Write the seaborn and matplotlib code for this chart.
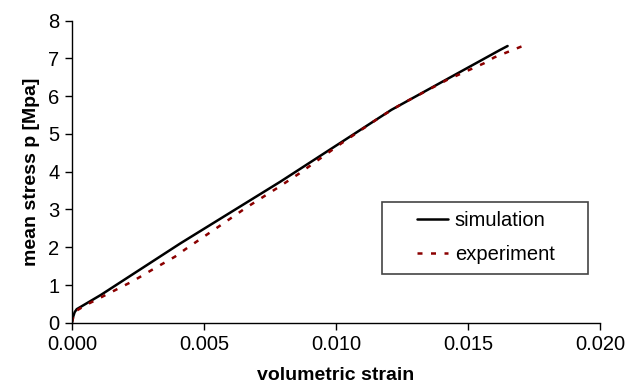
import matplotlib
matplotlib.use("Agg")
import matplotlib.pyplot as plt
from matplotlib.patches import Rectangle
import seaborn as sns

sim_strain = [0, 0.00004, 0.0001, 0.00018, 0.0011, 0.0041, 0.0079, 0.0121, 0.0142, 0.0162, 0.0165]
sim_stress = [0, 0.15, 0.28, 0.36, 0.74, 2.10, 3.74, 5.64, 6.45, 7.22, 7.33]

exp_strain = [0, 0.0001, 0.0005, 0.0014, 0.0023, 0.0031, 0.0039, 0.0043, 0.0055, 0.0066,
              0.0078, 0.0086, 0.0102, 0.0117, 0.0125, 0.0142, 0.0156, 0.0160, 0.0170, 0.0172]
exp_stress = [0.02, 0.29, 0.46, 0.78, 1.10, 1.43, 1.75, 1.95, 2.52, 3.05,
              3.58, 3.95, 4.75, 5.46, 5.80, 6.43, 6.87, 7.03, 7.31, 7.36]

x_ticks = [0.000, 0.005, 0.010, 0.015, 0.020]
y_ticks = [0, 1, 2, 3, 4, 5, 6, 7, 8]

sns.set_style("ticks")
plt.rcParams["font.family"] = ["Liberation Sans", "DejaVu Sans"]
plt.rcParams["text.color"] = "black"
plt.rcParams["axes.labelcolor"] = "black"
plt.rcParams["xtick.color"] = "black"
plt.rcParams["ytick.color"] = "black"

fig = plt.figure(figsize=(6.4, 3.87), dpi=100)
ax = fig.add_axes([0.1125, 0.166, 0.825, 0.7805])

sns.lineplot(x=sim_strain, y=sim_stress, ax=ax, color="black", linewidth=1.8,
             sort=False, estimator=None, label="simulation")
sns.lineplot(x=exp_strain, y=exp_stress, ax=ax, color="#8b0000", linewidth=1.8,
             sort=False, estimator=None, label="experiment", dashes=False)
ax.lines[1].set_linestyle((0, (2, 3.4)))

ax.set_xlim(0, 0.020)
ax.set_ylim(0, 8)
ax.set_xticks(x_ticks)
ax.set_xticklabels([f"{t:.3f}" for t in x_ticks])
ax.set_yticks(y_ticks)
ax.tick_params(labelsize=14.5, length=5, width=1, direction="out", color="black", pad=4)
for side in ["top", "right"]:
    ax.spines[side].set_visible(False)
for side in ["left", "bottom"]:
    ax.spines[side].set_color("black")
    ax.spines[side].set_linewidth(1)

ax.set_xlabel("volumetric strain", fontsize=14, fontweight="bold", labelpad=9)
ax.set_ylabel("mean stress p [Mpa]", fontsize=14, fontweight="bold", labelpad=6)

leg = ax.legend(loc="center", bbox_to_anchor=(0.784, 0.281), frameon=False,
                fontsize=14.5, handlelength=1.5, handletextpad=0.35, labelspacing=0.75)
ax.add_patch(Rectangle((0.588, 0.162), 0.389, 0.238, transform=ax.transAxes,
                       fill=False, edgecolor="#444444", linewidth=1.2, clip_on=False))

fig.savefig("out.png", dpi=100)
